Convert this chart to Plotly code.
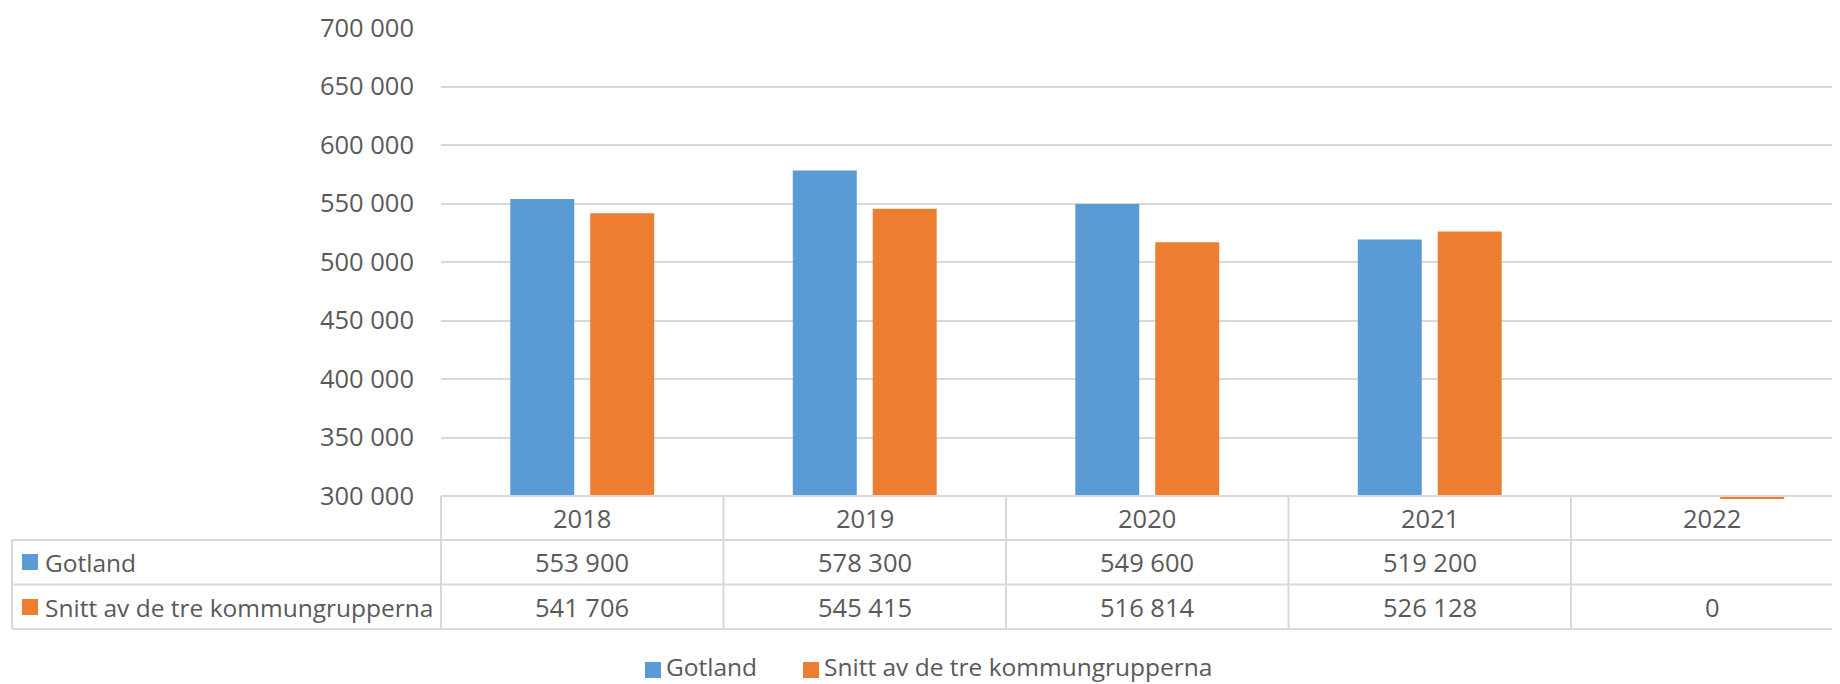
import plotly.graph_objects as go

years = ["2018", "2019", "2020", "2021", "2022"]
gotland = [553900, 578300, 549600, 519200, None]
snitt = [541706, 545415, 516814, 526128, 0]
series_names = ["Gotland", "Snitt av de tre kommungrupperna"]
colors = ["#5B9BD5", "#ED7D31"]
y_min, y_max, y_step = 300000, 700000, 50000

OFF = 8  # page body margin
PAGE_W, PAGE_H = 1840, 684
W, H = PAGE_W - OFF, PAGE_H - OFF
# plot area in page pixels
L, R, T, B = 441, 1840, 28, 496
PW, PH = R - L, B - T
TXT = "#595959"
GRID = "#D9D9D9"
FONT = "Open Sans"
FS_NUM = 25.5
FS_TXT = 24.5

cat_w = 282.5
x_range = [-0.5, -0.5 + PW / cat_w]
bargap, bargroupgap = 0.434, 0.2


def pxx(px):
    return (px - L) / PW


def pxy(py):
    return (B - py) / PH


def catx(v):
    return (v - x_range[0]) / (x_range[1] - x_range[0])


def fmt(v):
    if v is None:
        return ""
    return f"{v:,}".replace(",", " ")


fig = go.Figure()
for name, vals, col in zip(series_names, [gotland, snitt], colors):
    fig.add_trace(go.Bar(x=years, y=vals, name=name, showlegend=False,
                         marker=dict(color=col, line=dict(width=0))))

shapes = []
line = dict(color=GRID, width=2)
row_lines = [540, 584.5, 629]
shapes.append(dict(type="line", xref="paper", yref="paper", x0=pxx(L), x1=1.0, y0=pxy(B), y1=pxy(B), line=line))
for ry in row_lines:
    shapes.append(dict(type="line", xref="paper", yref="paper", x0=pxx(12), x1=1.0, y0=pxy(ry), y1=pxy(ry), line=line))
shapes.append(dict(type="line", xref="paper", yref="paper", x0=pxx(12), x1=pxx(12), y0=pxy(540), y1=pxy(629), line=line))
shapes.append(dict(type="line", xref="paper", yref="paper", x0=0, x1=0, y0=pxy(B), y1=pxy(629), line=line))
for i in range(len(years) - 1):
    xb = catx(i + 0.5)
    shapes.append(dict(type="line", xref="paper", yref="paper", x0=xb, x1=xb, y0=pxy(B), y1=pxy(629), line=line))

# zero-valued bars (below the axis minimum) shown as a thin line at the axis
group = 1 - bargap
slot = group / 2
for s, vals in enumerate([gotland, snitt]):
    for i, v in enumerate(vals):
        if v is not None and v <= y_min:
            x0 = i - group / 2 + s * slot + slot * bargroupgap / 2
            x1 = x0 + slot * (1 - bargroupgap)
            shapes.append(dict(type="line", xref="paper", yref="paper", x0=catx(x0), x1=catx(x1),
                               y0=pxy(B + 2), y1=pxy(B + 2), line=dict(color=colors[s], width=2)))

annotations = []
for i, yr in enumerate(years):
    annotations.append(dict(x=catx(i), y=pxy(518), xref="paper", yref="paper", text=yr, showarrow=False,
                            xanchor="center", yanchor="middle", font=dict(family=FONT, size=FS_NUM, color=TXT)))
row_centers = [562, 607]
for s, vals in enumerate([gotland, snitt]):
    rc = row_centers[s]
    for i, v in enumerate(vals):
        annotations.append(dict(x=catx(i), y=pxy(rc), xref="paper", yref="paper", text=fmt(v), showarrow=False,
                                xanchor="center", yanchor="middle", font=dict(family=FONT, size=FS_NUM, color=TXT)))
    shapes.append(dict(type="rect", xref="paper", yref="paper", x0=pxx(22), x1=pxx(38),
                       y0=pxy(rc - 8), y1=pxy(rc + 8), fillcolor=colors[s], line=dict(width=0)))
    annotations.append(dict(x=pxx(43), y=pxy(rc), xref="paper", yref="paper", text=series_names[s], showarrow=False,
                            xanchor="left", yanchor="middle", font=dict(family=FONT, size=FS_TXT, color=TXT)))

# legend (drawn to match the reference's symbol size and spacing)
legend_sq_x = [645, 803]
legend_sq_cy = 670
legend_txt_cy = 666
for s, name in enumerate(series_names):
    sx = legend_sq_x[s]
    shapes.append(dict(type="rect", xref="paper", yref="paper", x0=pxx(sx), x1=pxx(sx + 16),
                       y0=pxy(legend_sq_cy - 8), y1=pxy(legend_sq_cy + 8), fillcolor=colors[s], line=dict(width=0)))
    annotations.append(dict(x=pxx(sx + 20), y=pxy(legend_txt_cy), xref="paper", yref="paper", text=name,
                            showarrow=False, xanchor="left", yanchor="middle", borderpad=0,
                            font=dict(family=FONT, size=FS_TXT, color=TXT)))

fig.update_layout(
    width=W, height=H,
    margin=dict(l=L - OFF, r=PAGE_W - R, t=T - OFF, b=PAGE_H - B, pad=0),
    paper_bgcolor="white", plot_bgcolor="white",
    separators=", ",
    barmode="group", bargap=bargap, bargroupgap=bargroupgap,
    font=dict(family=FONT, size=FS_NUM, color=TXT),
    showlegend=False,
    xaxis=dict(type="category", range=x_range, showticklabels=False, showgrid=False,
               zeroline=False, showline=False, ticks=""),
    yaxis=dict(range=[y_min, y_max], dtick=y_step, tick0=y_min, tickformat=",d",
               showgrid=True, gridcolor=GRID, gridwidth=2, zeroline=False, showline=False,
               ticks="", ticklabelstandoff=26, tickfont=dict(family=FONT, size=FS_NUM, color=TXT)),
    shapes=shapes, annotations=annotations,
)

fig.write_html("out.html")
